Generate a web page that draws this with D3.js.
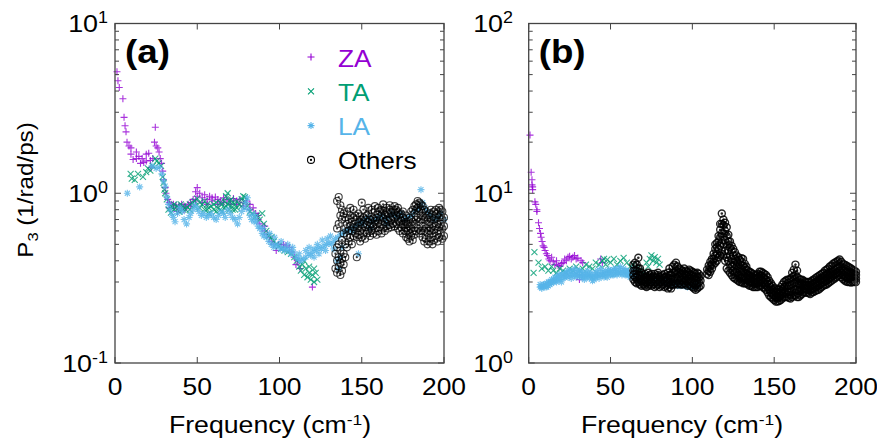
<!DOCTYPE html>
<html>
<head>
<meta charset="utf-8">
<script src="https://cdn.jsdelivr.net/npm/d3@7"></script>
<style>
body { margin: 0; background: #fff; }
text { font-family: "Liberation Sans", Arial, Helvetica, sans-serif; }
</style>
</head>
<body>
<script>
// ---- data: [frequency, [P3 values...]] ----
var xTicks = [0, 50, 100, 150, 200];
var yExpA = [-1, 0, 1];
var yExpB = [0, 1, 2];
var legendNames = ["ZA", "TA", "LA", "Others"];

var zaA = [[1.2,[5.2]],[1.8,[4.6]],[2.6,[4.2]],[4.8,[3.6]],[5.5,[2.8]],[6.1,[2.5]],[6.7,[2.3]],[7.3,[2.0]],[8.5,[1.9]],[9.7,[1.7,1.85]],[11,[1.58]],[13,[1.6,1.75]],[14.5,[1.65]],[15.5,[1.5]],[16.5,[1.6]],[17.5,[1.52]],[19,[1.7,1.55]],[20.5,[1.72]],[21.5,[1.56]],[22,[1.42]],[23,[1.6]],[24,[2.0]],[24.5,[2.45]],[25,[1.9]],[26,[1.85]],[26.8,[1.75]],[27.5,[1.6]],[28.3,[1.5]],[29,[1.35]],[29.5,[1.2]],[30.5,[1.08]],[31,[1.0]],[32,[0.92]],[33,[0.88,0.82]],[34,[0.86]],[35.5,[0.82,0.86]],[37,[0.85]],[38,[0.78]],[39,[0.84,0.8]],[40.5,[0.86]],[42,[0.84,0.8]],[43,[0.82]],[44.5,[0.86]],[46,[0.88,0.84]],[47.5,[0.92]],[49,[1.02,0.9]],[50,[1.08,0.96]],[51.5,[1.0]],[53,[0.94,0.88]],[54.5,[0.98]],[56,[0.92,0.86]],[57.5,[0.96]],[59,[0.9,0.94]],[61,[0.95]],[62.5,[0.92,0.86]],[64,[0.9]],[66,[0.94,0.88]],[68,[0.92]],[70,[0.9,0.86]],[72,[0.93]],[74,[0.9,0.86]],[76,[0.92]],[78,[0.88,0.84]],[80,[0.9]],[82,[0.86,0.8]],[84,[0.82]],[85.5,[0.76]],[87,[0.7,0.74]],[88,[0.66]],[89.5,[0.62]],[91,[0.6,0.64]],[92.5,[0.57]],[94,[0.55]],[95,[0.52]],[96.5,[0.5]],[98,[0.46]],[99.5,[0.5]],[101,[0.48]],[102.5,[0.5]],[104,[0.49]],[106,[0.48]],[107.5,[0.45]],[109,[0.42]],[110,[0.38]],[111,[0.4]],[112.5,[0.36]],[120,[0.28]]];

var taA = [[9.5,[1.3]],[10.2,[1.22]],[12,[1.2]],[14,[1.3]],[17,[1.25]],[19,[1.33]],[20,[1.4]],[21.5,[1.36]],[23,[1.45]],[24.5,[1.6]],[25.5,[1.55]],[26.5,[1.5]],[28,[1.45]],[29,[1.25]],[29.5,[1.15]],[30,[1.05]],[30.5,[1.0]],[31.5,[0.92]],[32.5,[0.8]],[34,[0.77,0.84]],[35,[0.82]],[36,[0.8,0.86]],[37.5,[0.84]],[39,[0.82,0.78]],[40,[0.86]],[41.5,[0.84,0.8]],[43,[0.8]],[44,[0.83]],[45.5,[0.86,0.8]],[47,[0.88]],[48.5,[0.9,0.84]],[50,[0.93]],[51.5,[0.88,0.82]],[53,[0.86]],[54.5,[0.9,0.8]],[56,[0.86,0.8]],[57,[0.82,0.76]],[58.5,[0.84]],[60,[0.86,0.8]],[61.5,[0.88,0.78]],[62.5,[0.82]],[64,[0.8,0.88]],[65,[0.86,0.78]],[66.5,[0.9,0.82]],[67.5,[0.96,0.84]],[68.5,[1.0,0.86]],[69.5,[0.9,0.8]],[70.5,[0.84,0.92]],[71.5,[0.88,0.8]],[73,[0.86,0.8]],[74,[0.82,0.9]],[75.5,[0.86]],[77,[0.92,0.84]],[78,[0.96]],[79,[0.9,0.95]],[80.5,[0.84]],[82,[0.78]],[83.5,[0.76]],[85,[0.72]],[86.5,[0.74]],[88,[0.7]],[89.5,[0.76]],[90.5,[0.66]],[92,[0.6]],[93.5,[0.56]],[95,[0.55]],[96.5,[0.52]],[98,[0.5]],[99.5,[0.49]],[101,[0.47]],[103,[0.46]],[105,[0.45]],[107,[0.44]],[109,[0.42]],[110.5,[0.4]],[112,[0.37]],[113,[0.35]],[114,[0.38]],[115,[0.33,0.4]],[116,[0.36]],[117,[0.32]],[118,[0.34,0.37]],[119,[0.31]],[120,[0.33]],[121,[0.3,0.36]],[122,[0.34]],[123,[0.31]]];

var laA = [[7.5,[1.0]],[15,[1.09]],[22.5,[1.45]],[25,[1.4]],[27,[1.42]],[28.5,[1.3]],[29.5,[1.18]],[30.5,[1.1]],[31.5,[0.95]],[32.5,[0.86]],[33.5,[0.8]],[34.5,[0.75]],[35.5,[0.72]],[36.5,[0.68]],[38,[0.76]],[39.5,[0.82]],[41,[0.78]],[42,[0.7]],[43.5,[0.66]],[45,[0.72]],[46,[0.76]],[47.5,[0.8]],[48.5,[0.85]],[50,[0.82]],[51,[0.78]],[52.5,[0.74]],[54,[0.76]],[55.5,[0.72]],[57,[0.74]],[58.5,[0.76]],[60,[0.72]],[61.5,[0.7]],[63,[0.74]],[64.5,[0.78]],[66,[0.76]],[67,[0.72]],[68.5,[0.8]],[70,[0.76]],[71.5,[0.72]],[73,[0.7]],[74.5,[0.66]],[75.5,[0.72]],[77,[0.78]],[78.5,[0.82]],[79.5,[0.88]],[80.5,[0.94]],[81,[0.8]],[82,[0.74]],[83,[0.7]],[84.5,[0.68,0.75]],[85.5,[0.72]],[86,[0.68]],[87,[0.64]],[88,[0.62]],[89.5,[0.58]],[90,[0.62]],[90.5,[0.56]],[92,[0.55]],[93.5,[0.52]],[94,[0.58]],[95,[0.5]],[96.5,[0.48]],[97,[0.55]],[97.5,[0.5]],[99,[0.49]],[100.5,[0.47]],[101,[0.52]],[102,[0.48]],[103,[0.46]],[104.5,[0.47]],[105,[0.5]],[106,[0.46]],[107,[0.44]],[108,[0.48]],[108.5,[0.45]],[110,[0.42]],[111.5,[0.41]],[112,[0.44]],[113,[0.4]],[114.5,[0.41]],[116,[0.42,0.46]],[117.5,[0.44]],[118,[0.48]],[119,[0.43]],[120,[0.45]],[121,[0.47,0.42]],[122.5,[0.46]],[123,[0.5]],[124,[0.48,0.44]],[125.5,[0.47]],[126,[0.53]],[127,[0.49]],[128,[0.46]],[128.5,[0.5]],[129,[0.54]],[130,[0.51]],[131,[0.56]],[131.5,[0.5]],[133,[0.52,0.47]],[134,[0.54]],[135,[0.4]],[135.5,[0.55]],[136,[0.36]],[137,[0.57,0.42]],[138,[0.48]],[138.5,[0.58]],[140,[0.6]],[141.5,[0.6]],[143,[0.62]],[144.5,[0.6]],[146,[0.64]],[147.5,[0.66]],[148,[0.44]],[149,[0.68]],[150.5,[0.66]],[152,[0.7]],[154,[0.72]],[155,[0.62]],[156,[0.68]],[158,[0.7]],[160,[0.72]],[162,[0.74]],[164,[0.7]],[165,[0.66]],[166,[0.72]],[168,[0.76]],[170,[0.74]],[172,[0.72]],[174,[0.76]],[176,[0.7]],[178,[0.72]],[180,[0.74]],[182,[0.78]],[184,[0.8]],[185.5,[0.84]],[186,[1.05]],[187,[0.88]],[188.5,[0.82]],[190,[0.78]],[192,[0.74]],[194,[0.7]],[196,[0.72]],[198,[0.76]],[200,[0.7]]];

var othersA = [[134,[0.36,0.44]],[135,[0.34,0.4,0.48,0.62,0.9]],[136,[0.37,0.42,0.5,0.66,0.95]],[137,[0.33,0.39,0.46,0.74,0.85]],[138,[0.35,0.41,0.53,0.7,0.8]],[139,[0.38,0.44,0.58,0.76]],[140,[0.42,0.5,0.62,0.72]],[141,[0.48,0.56,0.66,0.78]],[142,[0.52,0.6,0.7]],[143,[0.55,0.64,0.74,0.82]],[144,[0.5,0.6,0.68]],[145,[0.56,0.63,0.72,0.8]],[146,[0.58,0.66,0.74]],[147,[0.42,0.55,0.62,0.7]],[148,[0.57,0.64,0.76]],[149,[0.52,0.6,0.68,0.73]],[150,[0.55,0.62,0.7,0.88]],[151,[0.58,0.66,0.72,0.8]],[152,[0.54,0.63,0.7]],[153,[0.58,0.65,0.74]],[154,[0.6,0.68,0.76,0.82]],[155,[0.56,0.64,0.7]],[156,[0.6,0.66,0.73,0.8]],[157,[0.58,0.64,0.71]],[158,[0.62,0.69,0.78,0.84]],[159,[0.57,0.66,0.72]],[160,[0.6,0.67,0.75,0.82]],[161,[0.63,0.7,0.78]],[162,[0.58,0.66,0.74,0.8]],[163,[0.62,0.71,0.79,0.86]],[164,[0.6,0.68,0.75]],[165,[0.64,0.7,0.77,0.82]],[166,[0.62,0.69,0.76]],[167,[0.65,0.72,0.8,0.85]],[168,[0.63,0.7,0.77]],[169,[0.66,0.73,0.8]],[170,[0.64,0.71,0.78,0.84]],[171,[0.66,0.74,0.8]],[172,[0.62,0.7,0.77,0.82]],[173,[0.6,0.68,0.75]],[174,[0.63,0.69,0.76]],[175,[0.58,0.65,0.72,0.78]],[176,[0.6,0.66,0.7]],[177,[0.55,0.62,0.68,0.74]],[178,[0.54,0.6,0.66]],[179,[0.52,0.58,0.64,0.72]],[180,[0.56,0.62,0.7,0.78]],[181,[0.53,0.6,0.68,0.8]],[182,[0.57,0.66,0.76,0.84]],[183,[0.6,0.7,0.8,0.86]],[184,[0.62,0.72,0.82,0.9]],[185,[0.58,0.68,0.78,0.88]],[186,[0.6,0.7,0.8,0.86]],[187,[0.55,0.64,0.74,0.84]],[188,[0.52,0.6,0.7,0.8]],[189,[0.54,0.62,0.72,0.78]],[190,[0.5,0.58,0.66,0.74]],[191,[0.52,0.6,0.68,0.76]],[192,[0.55,0.62,0.7,0.8]],[193,[0.5,0.58,0.66,0.75]],[194,[0.53,0.61,0.7,0.78]],[195,[0.56,0.64,0.72,0.8]],[196,[0.52,0.6,0.68,0.76]],[197,[0.55,0.63,0.72,0.82]],[198,[0.58,0.66,0.74,0.8]],[199,[0.54,0.62,0.7,0.78]],[200,[0.56,0.64,0.72]]];

var zaB = [[0.8,[22]],[1.5,[13.3]],[2,[12,11.2]],[2.4,[10.5,10.9]],[3.8,[8.9]],[4.3,[8.6]],[5,[8.0,7.8]],[6,[6.7]],[6.6,[6.2]],[7.2,[5.8]],[7.6,[5.5]],[8.2,[5.2]],[8.8,[4.9]],[9.4,[4.8]],[10,[4.6]],[10.8,[4.4]],[11.5,[4.3]],[12.3,[4.1]],[13,[4.0]],[14,[4.2]],[15,[3.95]],[16,[3.8]],[17,[4.0]],[18,[3.75]],[19,[3.7]],[20,[3.85]],[21,[3.9]],[22,[4.1]],[23,[4.0]],[24,[4.2]],[25,[4.25]],[26,[4.1]],[27,[4.2]],[28,[4.3]],[29,[4.1]],[30,[4.15]],[31,[3.1,3.3]],[32,[4.0]],[33,[3.9]],[44,[4.1]],[45,[3.9]]];

var taB = [[3,[3.4]],[3.5,[4.5]],[6,[3.9]],[8,[3.6]],[10,[3.7]],[12,[3.5]],[14,[3.7]],[15,[3.5]],[17,[3.4]],[19,[3.6]],[21,[3.5]],[23,[3.4]],[25,[3.6]],[27,[3.5]],[29,[3.7]],[31,[3.5]],[33,[3.6]],[35,[3.8]],[37,[3.7]],[39,[3.6]],[41,[3.9]],[43,[3.8]],[45,[4.0]],[46,[4.1]],[47,[3.8]],[48,[4.07]],[50,[3.9]],[52,[4.1]],[54,[3.8]],[56,[4.0]],[58,[4.16]],[60,[3.9]],[62,[3.7]],[64,[3.8]],[66,[3.6]],[68,[3.5]],[70,[3.4]],[72,[3.9]],[73,[3.7]],[74,[4.1]],[75,[4.3]],[76,[4.0]],[77,[4.2]],[78,[3.9]],[79,[4.1]],[80,[3.8]]];

var laB = [[7,[2.9,2.8]],[8,[2.8,2.75]],[9,[2.85,2.9]],[10,[2.9,2.8]],[11,[2.8,2.95]],[12,[2.85,3.0]],[13,[3.0,2.9]],[14,[3.1,2.95]],[15,[3.1,3.0]],[16,[3.2,3.05]],[17,[3.2,3.0]],[18,[3.3,3.1]],[19,[3.1,3.25]],[20,[3.0,3.35]],[21,[3.3,3.15]],[22,[3.4,3.2]],[23,[3.4,3.25]],[24,[3.2,3.5]],[25,[3.5,3.3]],[26,[3.35,3.15]],[27,[3.3,3.5]],[28,[3.6,3.3]],[29,[3.4,3.2]],[30,[3.3,3.5]],[31,[3.5,3.25]],[32,[3.2,3.4]],[33,[3.4,3.2]],[34,[3.3,3.1]],[35,[3.2,3.4]],[36,[3.5,3.3]],[37,[3.3,3.15]],[38,[3.25,3.4]],[39,[3.2,3.05]],[40,[3.1,3.3]],[41,[3.4,3.2]],[42,[3.3,3.5]],[43,[3.3,3.15]],[44,[3.6,3.3]],[45,[3.3,3.45]],[46,[3.4,3.2]],[47,[3.5,3.3]],[48,[3.2,3.4]],[49,[3.4,3.55]],[50,[3.3,3.5]],[51,[3.5,3.3]],[52,[3.3,3.55]],[53,[3.6,3.4]],[54,[3.45,3.3]],[55,[3.4,3.6]],[56,[3.7,3.4]],[57,[3.5,3.3]],[58,[3.4,3.6]],[59,[3.5,3.3]],[60,[3.3,3.5]],[61,[3.3,3.45]],[62,[3.4,3.2]],[63,[3.4,3.25]],[64,[3.6,3.3]],[65,[3.2,3.4]],[67,[3.3,3.1]],[69,[3.2,3.05]],[71,[3.3,3.1]],[73,[3.2,3.05]],[75,[3.1,3.0]],[77,[3.2,3.0]],[79,[3.1,2.95]],[81,[3.0,3.1]],[83,[3.1,2.95]],[85,[3.1,2.9]],[87,[3.0,2.9]],[89,[3.0,2.9]],[91,[3.0,2.85]],[93,[2.95,2.85]],[95,[2.95,2.85]],[97,[2.9,2.8]],[99,[2.9,2.8]],[101,[2.9,2.8]],[103,[3.0,2.85]]];

var othersB = [[64,[3.1,3.3,3.5,3.8]],[65,[3.0,3.2,3.5,3.9]],[66,[2.95,3.2,3.5,3.8]],[67,[3.0,3.3,3.6,4.17]],[68,[2.9,3.1,3.3,3.6]],[69,[2.85,3.05,3.25,3.4]],[70,[2.9,3.1,3.3]],[71,[2.85,3.0,3.2,3.35]],[72,[2.8,3.0,3.2]],[73,[2.85,3.05,3.25,3.4]],[74,[2.9,3.1,3.3]],[75,[2.85,3.0,3.2,3.35]],[76,[2.9,3.1,3.25]],[77,[2.8,3.0,3.2,3.35]],[78,[2.85,3.05,3.2]],[79,[2.9,3.1,3.3,3.4]],[80,[2.8,3.0,3.2]],[81,[2.85,3.05,3.25]],[82,[2.9,3.1,3.3]],[83,[2.8,3.0,3.2,3.35]],[84,[2.85,3.05,3.2]],[85,[2.75,2.95,3.15,3.4]],[86,[2.8,3.0,3.3,3.6]],[87,[2.75,2.9,3.1,3.3]],[88,[2.9,3.1,3.4,3.7]],[89,[2.9,3.15,3.45,3.8]],[90,[2.95,3.2,3.5,3.9]],[91,[2.9,3.15,3.4,3.7]],[92,[2.95,3.2,3.45,3.6]],[93,[2.9,3.1,3.35,3.55]],[94,[2.9,3.1,3.3,3.5]],[95,[2.95,3.15,3.35,3.6]],[96,[2.9,3.1,3.3,3.5]],[97,[2.85,3.05,3.25,3.45]],[98,[2.9,3.1,3.3,3.55]],[99,[2.85,3.05,3.3,3.5]],[100,[2.8,3.0,3.25,3.45]],[101,[2.75,2.95,3.2,3.4]],[102,[2.7,2.9,3.15,3.35]],[103,[2.75,2.95,3.2,3.4]],[104,[2.8,3.0,3.2,3.35]],[105,[2.85,3.05,3.25]],
  [109,[3.35,3.55]],[110,[3.3,3.5,3.75]],[111,[3.45,3.7,3.95]],[112,[3.6,3.85,4.1]],[113,[3.8,4.1,4.4]],[114,[3.9,4.3,4.7,5.0]],[115,[4.0,4.4,4.8,5.1]],[116,[4.2,4.7,5.2,5.6]],[117,[4.3,4.9,5.5,6.1,6.6]],[118,[4.4,5.1,5.8,6.6,7.6]],[119,[4.3,5.0,5.8,6.5,7.0]],[120,[4.0,4.6,5.3,6.0,6.7]],[121,[3.6,4.2,4.9,5.6,6.3]],[122,[3.5,4.0,4.6,5.2,5.7]],[123,[3.4,3.8,4.3,4.8,5.2]],[124,[3.3,3.7,4.1,4.6,4.9]],[125,[3.2,3.5,3.9,4.3,4.7]],[126,[3.15,3.45,3.8,4.1,4.5]],[127,[3.1,3.4,3.7,4.0,4.3]],[128,[3.05,3.3,3.6,3.9,4.2]],[129,[3.0,3.25,3.5,3.8,4.05]],[130,[3.0,3.2,3.45,3.75,4.15]],[131,[2.95,3.2,3.45,3.75,4.1]],[132,[2.95,3.15,3.4,3.65,3.85]],[133,[2.95,3.15,3.35,3.55,3.7]],[134,[2.9,3.1,3.3,3.5]],[135,[2.85,3.05,3.25,3.45]],[136,[2.85,3.0,3.2,3.4]],[137,[2.8,3.0,3.2,3.35]],[138,[2.8,3.0,3.15,3.3]],[139,[2.8,2.95,3.15,3.3]],[140,[2.8,3.0,3.2,3.35]],[141,[2.85,3.05,3.25,3.45]],[142,[2.85,3.05,3.25,3.45]],[143,[2.8,3.0,3.2,3.4]],[144,[2.75,2.95,3.15,3.35]],[145,[2.7,2.9,3.1,3.3]],[146,[2.6,2.8,3.0,3.2]],[147,[2.5,2.7,2.9,3.05]],[148,[2.45,2.6,2.8,2.95]],[149,[2.4,2.55,2.7,2.85]],[150,[2.35,2.5,2.65,2.75]],[151,[2.3,2.45,2.6,2.75]],[152,[2.3,2.45,2.6,2.7]],[153,[2.32,2.45,2.6,2.72]],[154,[2.35,2.5,2.65,2.8]],[155,[2.4,2.55,2.72,2.9]],[156,[2.45,2.6,2.8,3.0]],[157,[2.45,2.62,2.82,3.05]],[158,[2.45,2.65,2.85,3.1]],[159,[2.42,2.62,2.85,3.1]],[160,[2.4,2.62,2.88,3.15]],[161,[2.45,2.65,2.9,3.2,3.4]],[162,[2.5,2.7,2.95,3.25,3.55]],[163,[2.5,2.72,3.0,3.3,3.8]],[164,[2.45,2.7,2.95,3.2,3.5]],[165,[2.45,2.65,2.9,3.15]],[166,[2.5,2.7,2.9,3.1]],[167,[2.55,2.72,2.9,3.1]],[168,[2.6,2.75,2.9,3.05]],[169,[2.6,2.75,2.88,3.0]],[170,[2.6,2.72,2.86,3.0]],[171,[2.58,2.7,2.85,3.0]],[172,[2.55,2.7,2.85,3.0]],[173,[2.6,2.72,2.88,3.05]],[174,[2.62,2.75,2.92,3.1]],[175,[2.65,2.8,2.96,3.15]],[176,[2.68,2.84,3.0,3.2]],[177,[2.7,2.86,3.04,3.25]],[178,[2.75,2.9,3.08,3.3]],[179,[2.8,2.95,3.12,3.35]],[180,[2.85,3.0,3.18,3.4]],[181,[2.88,3.05,3.25,3.5]],[182,[2.9,3.08,3.3,3.55]],[183,[2.95,3.12,3.35,3.6]],[184,[3.0,3.18,3.4,3.7]],[185,[3.05,3.22,3.45,3.75]],[186,[3.1,3.28,3.5,3.85]],[187,[3.15,3.32,3.55,3.9]],[188,[3.2,3.38,3.6,3.95]],[189,[3.25,3.42,3.65,4.0]],[190,[3.3,3.48,3.7,4.07]],[191,[3.2,3.4,3.62,3.95]],[192,[3.12,3.32,3.55,3.85]],[193,[3.06,3.26,3.5,3.8]],[194,[3.02,3.22,3.45,3.75]],[195,[3.0,3.2,3.42,3.7]],[196,[3.0,3.18,3.4,3.65]],[197,[2.98,3.16,3.38,3.6]],[198,[3.0,3.16,3.35,3.55]],[199,[3.0,3.15,3.32,3.5]],[200,[3.0,3.14,3.3,3.45]]];

var colors = ["#9400d3", "#009e73", "#56b4e9", "#000000"];
var shapes = {
  plus: "M-3.5,0H3.5M0,-3.5V3.5",
  cross: "M-3,-3L3,3M-3,3L3,-3",
  star: "M-3.5,0H3.5M0,-3.5V3.5M-2.5,-2.5L2.5,2.5M-2.5,2.5L2.5,-2.5",
  circ: "M3.5,0A3.5,3.5 0 1 1 -3.5,0A3.5,3.5 0 1 1 3.5,0ZM0.6,0A0.6,0.6 0 1 1 -0.6,0A0.6,0.6 0 1 1 0.6,0Z"
};
var shapeOrder = ["plus", "cross", "star", "circ"];

var svg = d3.select("body").append("svg").attr("width", 877).attr("height", 443);

function flat(rows) {
  var out = [];
  rows.forEach(function(r) { r[1].forEach(function(v) { out.push([r[0], v]); }); });
  return out;
}

// text stretched horizontally (the source figure's fonts are wide)
function wideText(parent, x, y, sx, size) {
  return parent.append("text")
    .attr("transform", "translate(" + x + "," + y + ") scale(" + sx + ",1)")
    .attr("font-size", size);
}

function drawPanel(p) {
  var x = d3.scaleLinear().domain([0, 200]).range([p.left, p.right]);
  var y = d3.scaleLog().domain(p.yDomain).range([363, 23.5]);
  var g = svg.append("g");

  // points
  p.series.forEach(function(rows, i) {
    g.append("g").selectAll("path")
      .data(flat(rows))
      .enter().append("path")
        .attr("transform", function(d) { return "translate(" + x(d[0]) + "," + y(d[1]) + ")"; })
        .attr("d", shapes[shapeOrder[i]])
        .attr("fill", "none")
        .attr("stroke", colors[i])
        .attr("stroke-width", i === 3 ? p.circW : 1.1)
        .attr("stroke-opacity", i === 3 ? p.circOp : 0.8);
  });

  // frame
  g.append("rect")
    .attr("x", p.left).attr("y", 23.5)
    .attr("width", p.right - p.left).attr("height", 363 - 23.5)
    .attr("fill", "none").attr("stroke", "#444").attr("stroke-width", 1.3);

  // y ticks (left + mirrored right), minor 2..9
  y.ticks().forEach(function(t) {
    var major = Math.abs(Math.log10(t) - Math.round(Math.log10(t))) < 1e-9;
    var len = major ? 6 : 4;
    var yy = y(t);
    g.append("line").attr("x1", p.left).attr("x2", p.left + len).attr("y1", yy).attr("y2", yy)
      .attr("stroke", "#444").attr("stroke-width", 1);
    g.append("line").attr("x1", p.right).attr("x2", p.right - len).attr("y1", yy).attr("y2", yy)
      .attr("stroke", "#444").attr("stroke-width", 1);
  });

  // x ticks (bottom + mirrored top)
  xTicks.forEach(function(t) {
    var xx = x(t);
    g.append("line").attr("x1", xx).attr("x2", xx).attr("y1", 363).attr("y2", 357)
      .attr("stroke", "#444").attr("stroke-width", 1);
    g.append("line").attr("x1", xx).attr("x2", xx).attr("y1", 23.5).attr("y2", 29.5)
      .attr("stroke", "#444").attr("stroke-width", 1);
    wideText(g, xx, 395, 1.1, 24).attr("text-anchor", "middle").text(t);
  });

  // y tick labels 10^n
  p.yExp.forEach(function(e) {
    var t = wideText(g, p.labelRight, y(Math.pow(10, e)) + 8.5, 1.12, 24).attr("text-anchor", "end");
    t.append("tspan").text("10");
    t.append("tspan").attr("font-size", 16).attr("dy", -9).text(e);
  });

  // panel tag
  wideText(g, p.left + 10, 63, 1.08, 34).attr("font-weight", "bold").text(p.tag);

  // x axis title
  var xt = wideText(g, p.titleX, 433, 1.16, 23).attr("text-anchor", "middle");
  xt.append("tspan").text("Frequency (cm");
  xt.append("tspan").attr("font-size", 15).attr("dy", -8).text("-1");
  xt.append("tspan").attr("dy", 8).text(")");
}

drawPanel({ left: 115, right: 444, yDomain: [0.1, 10], yExp: yExpA, labelRight: 108,
  tag: "(a)", titleX: 270, circW: 1.1, circOp: 0.75, series: [zaA, taA, laA, othersA] });
drawPanel({ left: 528.7, right: 856, yDomain: [1, 100], yExp: yExpB, labelRight: 513,
  tag: "(b)", titleX: 682, circW: 1.4, circOp: 0.85, series: [zaB, taB, laB, othersB] });

// y axis title
var ylab = svg.append("text")
  .attr("transform", "translate(33,190) rotate(-90) scale(1.1,1)")
  .attr("text-anchor", "middle").attr("font-size", 22);
ylab.append("tspan").text("P");
ylab.append("tspan").attr("font-size", 15).attr("dy", 5).text("3");
ylab.append("tspan").attr("dy", -5).text(" (1/rad/ps)");

// legend (panel a)
var leg = svg.append("g");
legendNames.forEach(function(name, i) {
  leg.append("path")
    .attr("transform", "translate(311," + (57 + 34.3 * i) + ")")
    .attr("d", shapes[shapeOrder[i]])
    .attr("fill", "none").attr("stroke", colors[i]).attr("stroke-width", 1.1);
  wideText(leg, 338, 67 + 34 * i, 1.14, 23).attr("fill", colors[i]).text(name);
});
</script>
</body>
</html>
